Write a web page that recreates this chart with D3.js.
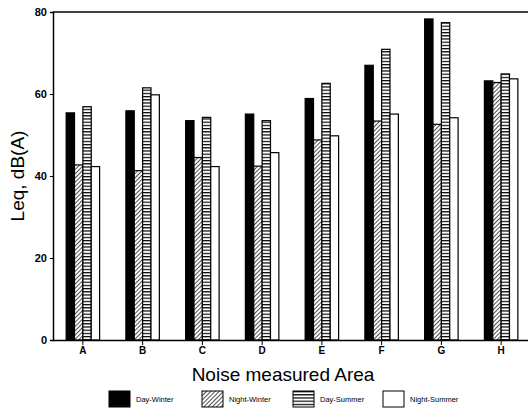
<!DOCTYPE html>
<html>
<head>
<meta charset="utf-8">
<script src="https://cdn.jsdelivr.net/npm/d3@7"></script>
<style>
  body { margin: 0; background: #fff; }
  text { font-family: "Liberation Sans", Arial, sans-serif; }
</style>
</head>
<body>
<div id="chart"></div>
<script>
// data
const areas = ["A", "B", "C", "D", "E", "F", "G", "H"];
const seriesNames = ["Day-Winter", "Night-Winter", "Day-Summer", "Night-Summer"];
const dayWinter   = [55.4, 55.9, 53.5, 55.1, 58.9, 67.0, 78.3, 63.2];
const nightWinter = [42.7, 41.3, 44.5, 42.4, 48.8, 53.4, 52.6, 62.8];
const daySummer   = [56.9, 61.5, 54.3, 53.5, 62.6, 70.9, 77.4, 64.9];
const nightSummer = [42.3, 59.8, 42.3, 45.7, 49.8, 55.1, 54.2, 63.7];
const yTicks = [0, 20, 40, 60, 80];

const width = 528, height = 410;
const marginLeft = 53, marginTop = 12, plotRight = 531, plotBottom = 340;

const svg = d3.select("#chart")
    .append("svg")
    .attr("width", width)
    .attr("height", height);

// patterns for the fills
const defs = svg.append("defs");
const hatch = defs.append("pattern")
    .attr("id", "hatch")
    .attr("patternUnits", "userSpaceOnUse")
    .attr("width", 3).attr("height", 3)
    .attr("patternTransform", "rotate(45)");
hatch.append("rect").attr("width", 3).attr("height", 3).attr("fill", "#fff");
hatch.append("line").attr("x1", 0).attr("y1", 0).attr("x2", 0).attr("y2", 3)
    .attr("stroke", "#000").attr("stroke-width", 1.4);

const stripes = defs.append("pattern")
    .attr("id", "stripes")
    .attr("patternUnits", "userSpaceOnUse")
    .attr("width", 6).attr("height", 3.2);
stripes.append("rect").attr("width", 6).attr("height", 3.2).attr("fill", "#fff");
stripes.append("line").attr("x1", 0).attr("y1", 0.6).attr("x2", 6).attr("y2", 0.6)
    .attr("stroke", "#000").attr("stroke-width", 1.2);

const fills = ["#000", "url(#hatch)", "url(#stripes)", "#fff"];

const data = areas.map((a, i) => ({
    area: a,
    values: [dayWinter[i], nightWinter[i], daySummer[i], nightSummer[i]]
}));

// scales
const x = d3.scaleBand()
    .domain(areas)
    .range([marginLeft, plotRight])
    .padding(0);

const xInner = d3.scaleBand()
    .domain(d3.range(4))
    .range([x.bandwidth() * 0.22, x.bandwidth() * 0.78])
    .padding(0);

const y = d3.scaleLinear()
    .domain([0, 80])
    .range([plotBottom, marginTop]);

// bars
const groups = svg.append("g")
    .selectAll("g")
    .data(data)
    .join("g")
    .attr("transform", d => `translate(${x(d.area)},0)`);

groups.selectAll("rect")
    .data(d => d.values.map((v, k) => ({ k, v })))
    .join("rect")
    .attr("x", d => xInner(d.k))
    .attr("y", d => y(d.v))
    .attr("width", xInner.bandwidth())
    .attr("height", d => y(0) - y(d.v))
    .attr("fill", d => fills[d.k])
    .attr("stroke", "#000")
    .attr("stroke-width", 1.2);

// frame top line
svg.append("line")
    .attr("x1", marginLeft).attr("x2", plotRight)
    .attr("y1", marginTop).attr("y2", marginTop)
    .attr("stroke", "#000").attr("stroke-width", 1.5);

// Y axis
const yAxis = svg.append("g")
    .attr("transform", `translate(${marginLeft},0)`)
    .call(d3.axisLeft(y).tickValues(yTicks).tickSize(3).tickPadding(3));
yAxis.select(".domain").attr("stroke-width", 1.5);
yAxis.selectAll("text")
    .attr("font-size", 11).attr("font-weight", "bold").attr("fill", "#000");

// X axis
const xAxis = svg.append("g")
    .attr("transform", `translate(0,${plotBottom})`)
    .call(d3.axisBottom(x).tickSize(5).tickPadding(2).tickSizeOuter(0));
xAxis.select(".domain").attr("stroke-width", 1.5);
xAxis.selectAll("text")
    .attr("font-size", 10).attr("font-weight", "bold").attr("fill", "#000");

// axis titles
svg.append("text")
    .attr("transform", `translate(24,${(marginTop + plotBottom) / 2}) rotate(-90)`)
    .attr("text-anchor", "middle")
    .attr("font-size", 19)
    .text("Leq, dB(A)");

svg.append("text")
    .attr("x", 283).attr("y", 381)
    .attr("text-anchor", "middle")
    .attr("font-size", 19)
    .text("Noise measured Area");

// legend
const legendX = [109, 202, 293, 383];
const legend = svg.append("g")
    .selectAll("g")
    .data(seriesNames)
    .join("g")
    .attr("transform", (d, i) => `translate(${legendX[i]},391)`);

legend.append("rect")
    .attr("width", 21).attr("height", 16)
    .attr("fill", (d, i) => fills[i])
    .attr("stroke", "#000").attr("stroke-width", 1);

legend.append("text")
    .attr("x", 27).attr("y", 11)
    .attr("font-size", 7.5)
    .text(d => d);
</script>
</body>
</html>
